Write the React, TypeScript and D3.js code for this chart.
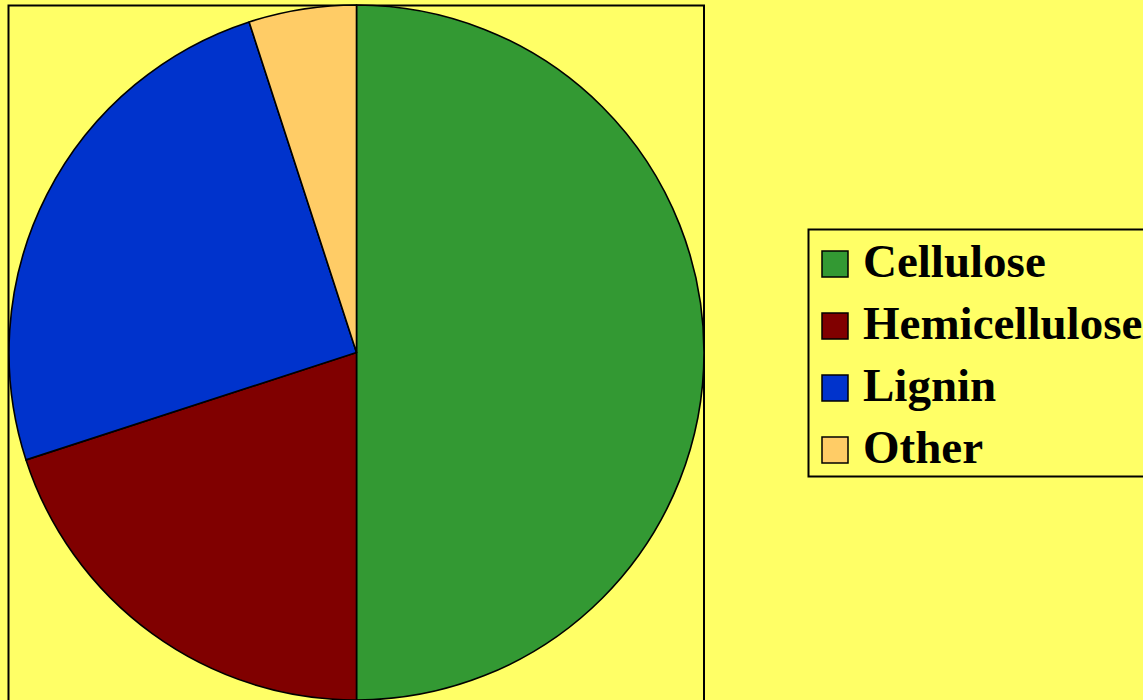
import React, { useEffect, useRef } from "react";
import * as d3 from "d3";

const categories = ["Cellulose", "Hemicellulose", "Lignin", "Other"];
const values = [50, 20, 25, 5];
const colors = ["#339933", "#800000", "#0033CC", "#FFCC66"];

export default function App() {
  const svgRef = useRef<SVGSVGElement>(null);

  useEffect(() => {
    const width = 1143;
    const height = 700;
    const svg = d3.select(svgRef.current).attr("width", width).attr("height", height);
    svg.selectAll("*").remove();

    svg.append("rect").attr("width", width).attr("height", height).attr("fill", "#FFFF66");

    // plot area frame
    svg.append("rect")
      .attr("x", 8.5).attr("y", 5.5)
      .attr("width", 695.5).attr("height", 710)
      .attr("fill", "none").attr("stroke", "#000").attr("stroke-width", 2);

    const cx = 356.5, cy = 352.5, r = 347.5;
    const pie = d3.pie<number>().sort(null).value(d => d);
    const arc = d3.arc<d3.PieArcDatum<number>>().innerRadius(0).outerRadius(r);

    svg.append("g")
      .attr("transform", `translate(${cx},${cy})`)
      .selectAll("path")
      .data(pie(values))
      .join("path")
      .attr("d", arc)
      .attr("fill", (d, i) => colors[i])
      .attr("stroke", "#000")
      .attr("stroke-width", 1.6)
      .attr("stroke-linejoin", "round");

    // legend
    const lg = svg.append("g");
    lg.append("rect")
      .attr("x", 808.5).attr("y", 229.5)
      .attr("width", 400).attr("height", 247)
      .attr("fill", "#FFFF66").attr("stroke", "#000").attr("stroke-width", 2);

    const rows = lg.selectAll("g.item")
      .data(categories)
      .join("g")
      .attr("class", "item")
      .attr("transform", (d, i) => `translate(0,${277 + i * 62})`);

    rows.append("rect")
      .attr("x", 822).attr("y", -26)
      .attr("width", 26).attr("height", 26)
      .attr("fill", (d, i) => colors[i])
      .attr("stroke", "#000").attr("stroke-width", 1.5);

    rows.append("text")
      .attr("x", 863).attr("y", 0)
      .attr("font-family", "'Liberation Serif', 'Times New Roman', serif")
      .attr("font-weight", "bold")
      .attr("font-size", 47)
      .attr("fill", "#000")
      .text(d => d);
  }, []);

  return (
    <div style={{ position: "absolute", left: 0, top: 0, width: 1143, height: 700, overflow: "hidden" }}>
      <svg ref={svgRef} style={{ display: "block" }}></svg>
    </div>
  );
}
